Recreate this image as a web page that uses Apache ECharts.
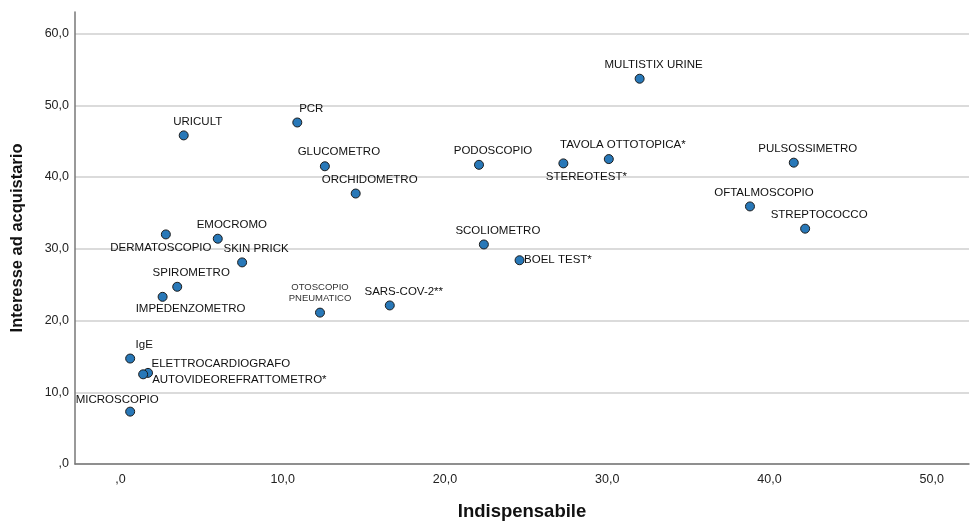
<!DOCTYPE html>
<html>
<head>
<meta charset="utf-8">
<script src="https://cdn.jsdelivr.net/npm/echarts@6/dist/echarts.min.js"></script>
<style>
  html, body { margin: 0; padding: 0; background: #fff; }
  #chart { width: 970px; height: 526px; }
</style>
</head>
<body>
<div id="chart"></div>
<script>
// data
const names = [
  'MULTISTIX URINE', 'PCR', 'URICULT', 'GLUCOMETRO', 'PODOSCOPIO', 'STEREOTEST*',
  'TAVOLA OTTOTOPICA*', 'PULSOSSIMETRO', 'ORCHIDOMETRO', 'OFTALMOSCOPIO', 'STREPTOCOCCO',
  'DERMATOSCOPIO', 'EMOCROMO', 'SCOLIOMETRO', 'SKIN PRICK', 'BOEL TEST*', 'SPIROMETRO',
  'IMPEDENZOMETRO', 'SARS-COV-2**', 'OTOSCOPIO\nPNEUMATICO', 'IgE', 'ELETTROCARDIOGRAFO',
  'AUTOVIDEOREFRATTOMETRO*', 'MICROSCOPIO'
];
const indispensabile = [
  32.0, 10.9, 3.9, 12.6, 22.1, 27.3,
  30.1, 41.5, 14.5, 38.8, 42.2,
  2.8, 6.0, 22.4, 7.5, 24.6, 3.5,
  2.6, 16.6, 12.3, 0.6, 1.7,
  1.4, 0.6
];
const interesse = [
  53.7, 47.6, 45.8, 41.5, 41.7, 41.9,
  42.5, 42.0, 37.7, 35.9, 32.8,
  32.0, 31.4, 30.6, 28.1, 28.4, 24.7,
  23.3, 22.1, 21.1, 14.7, 12.7,
  12.5, 7.3
];
const xTicks = [0, 10, 20, 30, 40, 50];
const yTicks = [0, 10, 20, 30, 40, 50, 60];

// label placement (offset from the dot centre), default is up-right
const labelOffsets = {
  'DERMATOSCOPIO': { offset: [-5, 13] },
  'IMPEDENZOMETRO': { offset: [28, 12] },
  'STEREOTEST*': { offset: [23, 13] },
  'MICROSCOPIO': { offset: [-13, -12] },
  'ELETTROCARDIOGRAFO': { offset: [3.5, -9], align: 'left' },
  'AUTOVIDEOREFRATTOMETRO*': { offset: [9, 6], align: 'left' },
  'BOEL TEST*': { offset: [4.5, 0], align: 'left' },
  'OTOSCOPIO\nPNEUMATICO': { offset: [0, -20], fontSize: 9.5, lineHeight: 11, color: '#333' }
};

const fmt = v => v === 0 ? ',0' : v.toFixed(1).replace('.', ',');

const points = names.map((n, i) => {
  const p = labelOffsets[n] || {};
  return {
    name: n,
    value: [indispensabile[i], interesse[i]],
    label: {
      offset: p.offset || [14, -14],
      align: p.align || 'center',
      fontSize: p.fontSize || 11.5,
      lineHeight: p.lineHeight || 13,
      color: p.color || '#111'
    }
  };
});

const chart = echarts.init(document.getElementById('chart'));
chart.setOption({
  animation: false,
  textStyle: { fontFamily: '"Liberation Sans", Arial, sans-serif' },
  grid: { left: 75, right: 1, top: 12, bottom: 59 },
  xAxis: {
    type: 'value',
    min: -2.8,
    max: 52.3,
    name: 'Indispensabile',
    nameLocation: 'middle',
    nameGap: 38,
    nameTextStyle: { fontSize: 18.5, fontWeight: 'bold', color: '#111' },
    axisLine: { show: true, onZero: false, lineStyle: { color: '#777', width: 1.5 } },
    axisTick: { show: false },
    splitLine: { show: false },
    axisLabel: {
      customValues: xTicks,
      formatter: fmt,
      fontSize: 12.5,
      color: '#222',
      margin: 9
    }
  },
  yAxis: {
    type: 'value',
    min: 0,
    max: 63,
    name: 'Interesse ad acquistario',
    nameLocation: 'middle',
    nameGap: 49,
    nameTextStyle: { fontSize: 16.5, fontWeight: 'bold', color: '#111' },
    axisLine: { show: true, onZero: false, lineStyle: { color: '#777', width: 1.5 } },
    axisTick: { show: false, customValues: yTicks },
    splitLine: { show: true, lineStyle: { color: '#cfcfcf', width: 1.5 } },
    axisLabel: {
      customValues: yTicks,
      formatter: fmt,
      fontSize: 12.5,
      color: '#222',
      margin: 6
    }
  },
  series: [{
    type: 'scatter',
    symbolSize: 9,
    itemStyle: { color: '#2878b8', borderColor: '#1b1b1b', borderWidth: 1, opacity: 1 },
    label: { show: true, position: 'inside', formatter: '{b}' },
    data: points
  }]
});
</script>
</body>
</html>
